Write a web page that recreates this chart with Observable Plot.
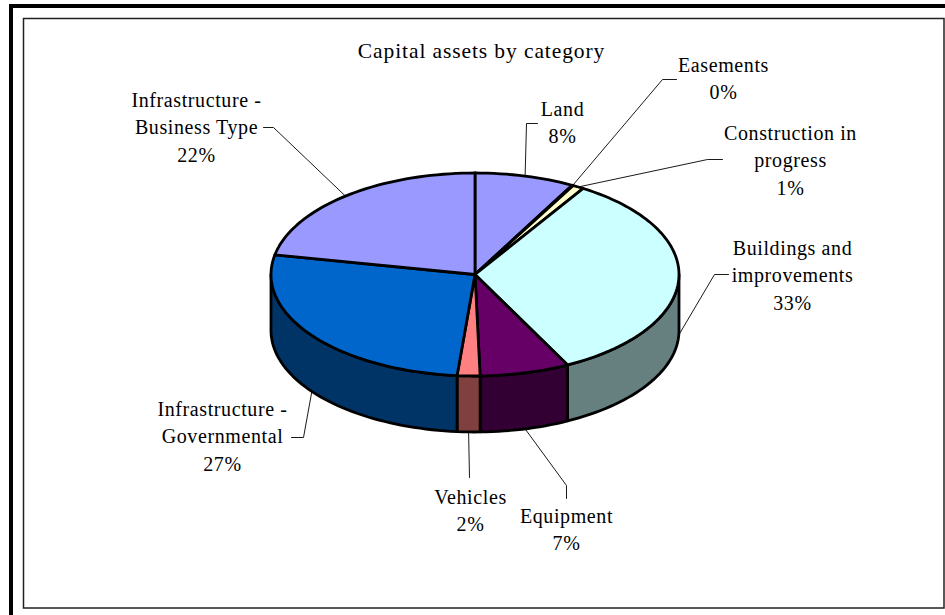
<!DOCTYPE html>
<html>
<head>
<meta charset="utf-8">
<style>html,body{margin:0;padding:0;background:#fff;overflow:hidden}svg{display:block}
.pie-label text{letter-spacing:.6px}
.pie-title text{letter-spacing:.9px}
</style>
<script src="https://cdn.jsdelivr.net/npm/d3@7"></script>
<script src="https://cdn.jsdelivr.net/npm/@observablehq/plot@0.6"></script>
</head>
<body>
<script>
// Data, clockwise from twelve o'clock
const categories = ["Land","Easements","Construction in progress","Buildings and improvements","Equipment","Vehicles","Infrastructure - Governmental","Infrastructure - Business Type"];
const values = [7.9,0.1,0.9,33.6,7.1,1.8,26.7,21.9];
const percentLabels = ["8%","0%","1%","33%","7%","2%","27%","22%"];
const labelLines = ["Land","Easements","Construction in\nprogress","Buildings and\nimprovements","Equipment","Vehicles","Infrastructure -\nGovernmental","Infrastructure -\nBusiness Type"];
const topColors = ["#9999FF","#FFFFCC","#FFFFCC","#CCFFFF","#660066","#FF8080","#0066CC","#9999FF"];
const sideColors = ["#4D4D80","#808066","#808066","#668080","#330033","#804040","#003366","#4D4D80"];
const chartTitle = "Capital assets by category";

// Layout (pixels)
const W = 945, H = 615;
const cx = 474.5, cy = 274, rx = 204, ry = 101.5, depth = 56;
const labelPos = [[562,120],[723,76.5],[790,158],[792,273],[566,527.5],[470,508.5],[222,434],[196,125]];
const elbows = [
  [[526,123],[537,123]],
  [[662,79],[676,79]],
  [[707,159],[722,159]],
  [[714,274],[728,274]],
  [[566,485],[566,498]],
  [[469,477]],
  [[303,437],[291,437]],
  [[273,127],[263,127]]
];

const rad = p => p / 100 * 2 * Math.PI;
const px = t => cx + rx * Math.sin(t);
const py = (t, d = 0) => cy - ry * Math.cos(t) + d;

let acc = 0;
const slices = values.map((v, i) => {
  const s = { i, name: categories[i], start: acc, end: acc + v };
  acc += v;
  return s;
});

function arcPoints(a, b, d) {
  const n = Math.max(2, Math.ceil((b - a) * 2));
  return d3.range(n + 1).map(k => {
    const t = rad(a + (b - a) * k / n);
    return [px(t), py(t, d)];
  });
}

const topPolys = [], sidePolys = [], leaders = [], labels = [];
slices.forEach(s => {
  // top face
  [[cx, cy], ...arcPoints(s.start, s.end, 0), [cx, cy]].forEach(p =>
    topPolys.push({ name: s.name, x: p[0], y: p[1], color: topColors[s.i] }));
  // side wall: only the front half of the rim (25%..75%) is visible
  const a = Math.max(s.start, 25), b = Math.min(s.end, 75);
  if (b > a) {
    const upper = arcPoints(a, b, 0), lower = arcPoints(a, b, depth).reverse();
    [...upper, ...lower, upper[0]].forEach(p =>
      sidePolys.push({ name: s.name, x: p[0], y: p[1], color: sideColors[s.i] }));
  }
  // leader from the rim at the slice's middle angle
  const mid = (s.start + s.end) / 2, t = rad(mid);
  const front = mid > 25 && mid < 75;
  const pts = [[px(t), py(t, front ? depth : 0)], ...elbows[s.i]];
  pts.forEach(p => leaders.push({ name: s.name, x: p[0], y: p[1] }));
  labels.push({ text: labelLines[s.i] + "\n" + percentLabels[s.i], x: labelPos[s.i][0], y: labelPos[s.i][1] });
});

const border = [
  { x1: 11, y1: 6, x2: W + 10, y2: H + 10, sw: 4, c: "#000" },
  { x1: 23.5, y1: 18.5, x2: 944, y2: 608, sw: 1.5, c: "#222" }
];

const chart = Plot.plot({
  width: W, height: H,
  marginTop: 0, marginRight: 0, marginBottom: 0, marginLeft: 0,
  x: { domain: [0, W], range: [0, W], axis: null },
  y: { domain: [0, H], range: [0, H], axis: null },
  style: { background: "#fff", fontFamily: "'Liberation Serif'", overflow: "hidden" },
  marks: [
    Plot.rect(border, { x1: "x1", y1: "y1", x2: "x2", y2: "y2", fill: "none", stroke: "c", strokeWidth: "sw" }),
    Plot.line(sidePolys, { x: "x", y: "y", z: "name", fill: "color", stroke: "#000", strokeWidth: 2.8, strokeLinejoin: "round", curve: "linear" }),
    Plot.line(topPolys, { x: "x", y: "y", z: "name", fill: "color", stroke: "#000", strokeWidth: 2.8, strokeLinejoin: "round", curve: "linear" }),
    Plot.line(leaders, { x: "x", y: "y", z: "name", stroke: "#000", strokeWidth: 0.9, fill: "none", curve: "linear" }),
    Plot.text(labels, { x: "x", y: "y", text: "text", fontSize: 20, lineHeight: 1.37, fill: "#000", textAnchor: "middle", className: "pie-label" }),
    Plot.text([chartTitle], { x: [481], y: [51], text: d => d, fontSize: 21.5, fill: "#000", textAnchor: "middle", className: "pie-title" })
  ]
});
document.body.appendChild(chart);
</script>
</body>
</html>
